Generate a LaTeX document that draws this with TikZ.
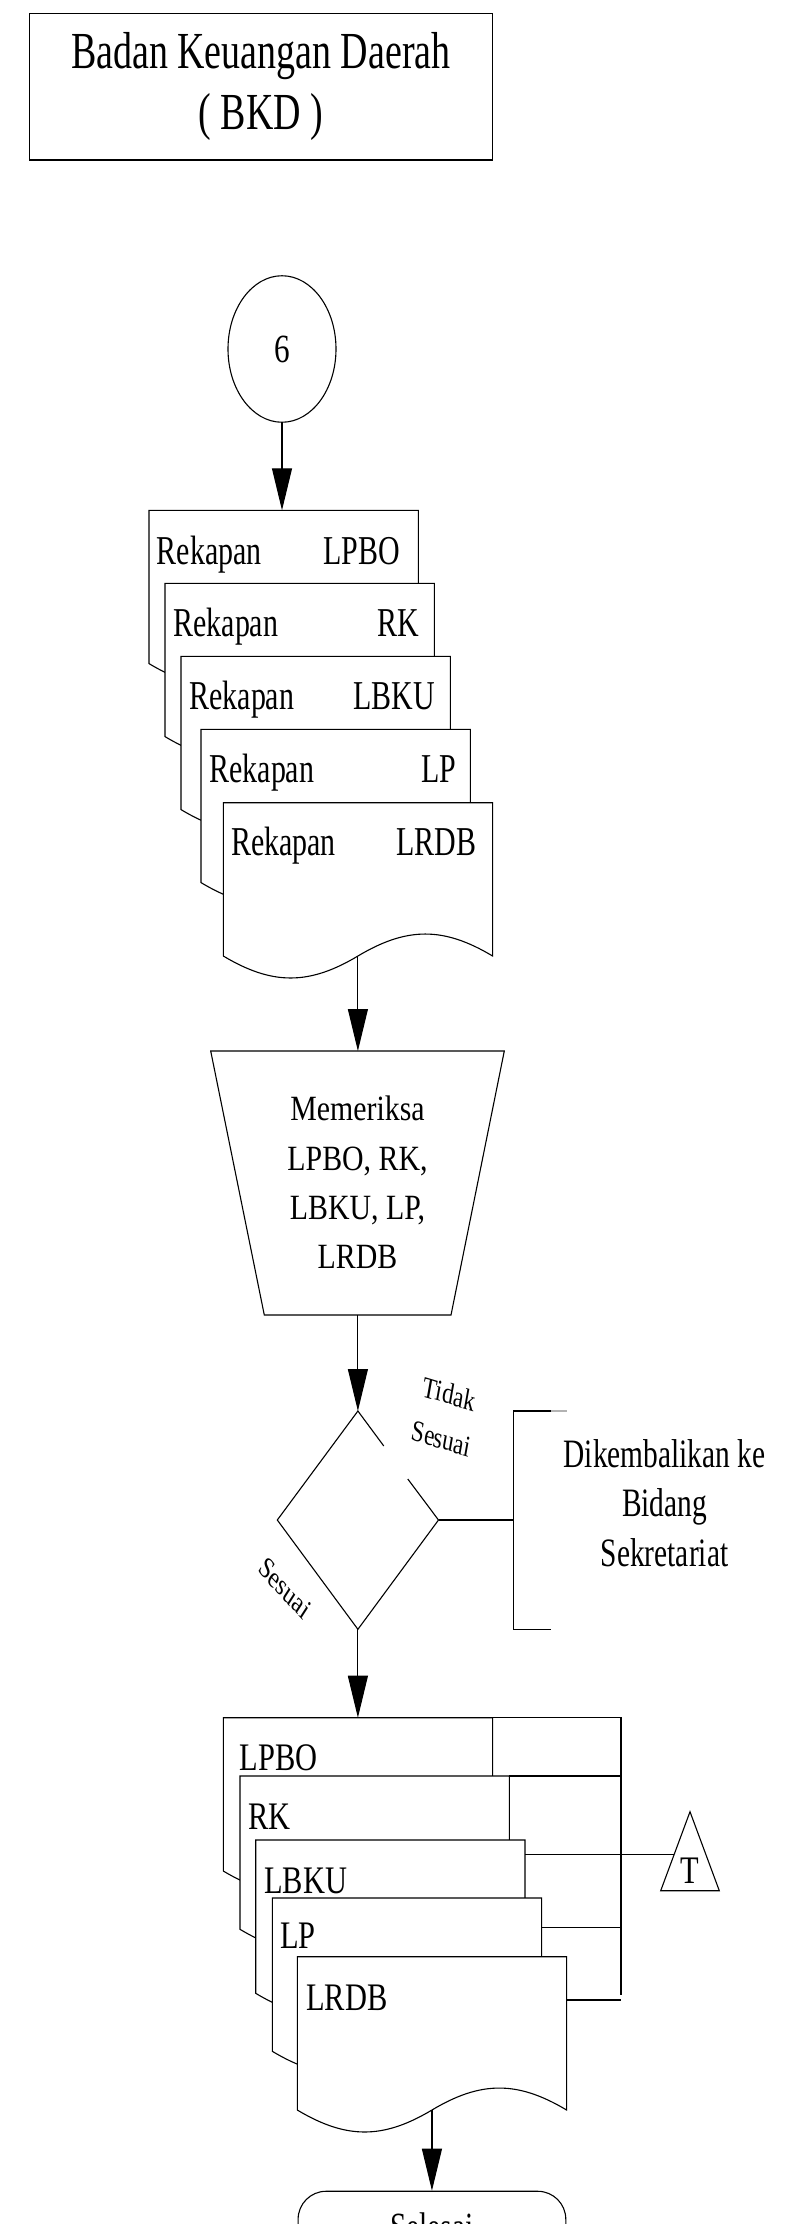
\documentclass[tikz,border=0pt]{standalone}
\usepackage{fontspec}
\setmainfont{Liberation Serif}
\newfontfamily\fA[FakeStretch=0.73]{Liberation Serif}
\newfontfamily\fB[FakeStretch=0.84]{Liberation Serif}
\newfontfamily\fC[FakeStretch=0.78]{Liberation Serif}
\usetikzlibrary{arrows.meta,shapes.geometric}

\tikzset{
  ln/.style={line width=1.1pt, line join=miter},
  arr/.style={ln, -{Triangle[length=42pt,width=20pt]}},
  docst/.style={ln, fill=white},
  lbl/.style={inner sep=0pt, anchor=base west},
  lblr/.style={inner sep=0pt, anchor=base east},
  fdoc/.style={font=\fA\fontsize{41}{48}\selectfont},
  fdocb/.style={font=\fC\fontsize{39}{46}\selectfont},
}

\newcommand{\docshape}[2]{%
  \begin{scope}[shift={(#1,#2)}]
    \filldraw[docst] (0,0) -- (269.3,0) -- (269.3,153.3)
      .. controls (220.3,124) and (183.65,124) .. (134.65,153.3)
      .. controls (85.65,182.6) and (49,182.6) .. (0,153.3) -- cycle;
  \end{scope}}

\begin{document}
\begin{tikzpicture}[x=1pt,y=-1pt]
\useasboundingbox (0,0) rectangle (795,2224);
\clip (0,0) rectangle (795,2224);

% title
\node[ln, draw, minimum width=463pt, minimum height=146.5pt, inner sep=0pt,
      align=center, font=\fA\fontsize{52}{60.7}\selectfont] (title) at (260.8,86.75)
      {Badan Keuangan Daerah\\( BKD )};

% connector 6
\node[ln, draw, ellipse, minimum width=108pt, minimum height=146.5pt, inner sep=0pt,
      font=\fC\fontsize{40}{48}\selectfont] (c6) at (282,349) {6};
\coordinate (s1top) at (282,510.3);
\draw[arr] (c6) -- (s1top);

% stack 1
\docshape{149}{510.3}
\node[lbl, fdoc] (r1a) at (156.7,564) {Rekapan};
\node[lblr, fdoc] (r1b) at (400,564) {LPBO};
\docshape{165}{583.3}
\node[lbl, fdoc] (r2a) at (173.3,636.7) {Rekapan};
\node[lblr, fdoc] (r2b) at (419.3,636.7) {RK};
\docshape{181}{656.3}
\node[lbl, fdoc] (r3a) at (189.3,709) {Rekapan};
\node[lblr, fdoc] (r3b) at (435.3,709) {LBKU};
\docshape{201}{729.3}
\node[lbl, fdoc] (r4a) at (209.3,782.7) {Rekapan};
\node[lblr, fdoc] (r4b) at (456.7,782.7) {LP};
\docshape{223.3}{802.7}
\node[lbl, fdoc] (r5a) at (231,855) {Rekapan};
\node[lblr, fdoc] (r5b) at (476.7,855) {LRDB};
\coordinate (s1bot) at (357.9,956);

% trapezoid
\coordinate (trtop) at (357.9,1051);
\coordinate (trbot) at (357.9,1315);
\filldraw[ln, fill=white] (210.7,1051) -- (504.3,1051) -- (451,1315) -- (264.3,1315) -- cycle;
\node[align=center, inner sep=0pt, font=\fB\fontsize{35.5}{49.2}\selectfont] (chk) at (357.5,1182.4)
  {Memeriksa\\LPBO, RK,\\LBKU, LP,\\LRDB};
\draw[arr] (s1bot) -- (trtop);

% decision
\coordinate (dtop) at (357.9,1411);
\coordinate (dbot) at (357.9,1629.3);
\coordinate (dright) at (438.5,1520);
\coordinate (brk) at (513.5,1520);
\draw[arr] (trbot) -- (dtop);
\draw[ln] (383.8,1446) -- (dtop) -- (277.3,1520) -- (dbot) -- (dright) -- (407.8,1479);
\draw[ln] (dright) -- (brk);
\draw[ln] (551,1411) -- (513.5,1411) -- (513.5,1629.5) -- (551,1629.5);
\draw[line width=1.1pt, gray!60] (551,1411) -- (567.3,1411);
\node[align=center, inner sep=0pt, font=\fA\fontsize{40.3}{49.35}\selectfont] (ret) at (664.5,1502.9)
  {Dikembalikan ke\\Bidang\\Sekretariat};

\begin{scope}[shift={(445.5,1416)}, yscale=1.3]
  \node[transform shape, rotate=-13, align=center, inner sep=0pt, font=\fontsize{23}{35}\selectfont] (tsl) {Tidak\\Sesuai};
\end{scope}
\begin{scope}[shift={(285,1588)}, yscale=1.3]
  \node[transform shape, rotate=-40, inner sep=0pt, font=\fontsize{23}{26}\selectfont] (sl) {Sesuai};
\end{scope}

% stack 2
\coordinate (s2top) at (357.9,1717.7);
\draw[arr] (dbot) -- (s2top);
\docshape{223.3}{1717.7}
\node[lbl, fdocb] (f1) at (239.3,1770) {LPBO};
\docshape{240}{1776}
\node[lbl, fdocb] (f2) at (248.3,1829.3) {RK};
\docshape{255.7}{1840}
\node[lbl, fdocb] (f3) at (264,1893.3) {LBKU};
\docshape{272.3}{1898}
\node[lbl, fdocb] (f4) at (280,1948.3) {LP};
\docshape{297.3}{1956.7}
\node[lbl, fdocb] (f5) at (306,2010) {LRDB};

% bus lines
\draw[ln] (492.6,1717.7) -- (621,1717.7) -- (621,1995);
\draw[ln] (509.3,1776) -- (621,1776);
\coordinate (tl) at (674.2,1854.3);
\draw[ln] (525,1854.3) -- (tl);
\draw[ln] (541.6,1927.7) -- (621,1927.7);
\draw[ln] (566.6,2000) -- (621,2000);

% triangle T
\draw[ln] (690,1811.7) -- (719.3,1890.7) -- (660.7,1890.7) -- cycle;
\node[anchor=base, inner sep=0pt, font=\fC\fontsize{39}{40}\selectfont] (tT) at (690,1883.3) {T};

% end
\coordinate (s2bot) at (431.95,2110);
\node[ln, draw, rounded corners=28pt, minimum width=267.7pt, minimum height=72pt, anchor=north,
      inner sep=0pt, font=\fA\fontsize{40}{48}\selectfont] (sel) at (431.95,2190.7) {Selesai};
\draw[arr] (s2bot) -- (sel.north);
\end{tikzpicture}
\end{document}
